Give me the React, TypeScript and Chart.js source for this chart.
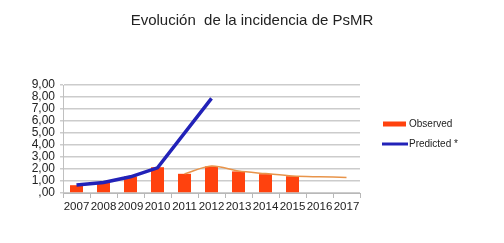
import React, { useEffect, useRef } from "react";
import { Chart, registerables } from "chart.js";

Chart.register(...registerables);

const categories = ["2007", "2008", "2009", "2010", "2011", "2012", "2013", "2014", "2015", "2016", "2017"];
const observed = [0.65, 0.85, 1.38, 2.15, 1.6, 2.22, 1.8, 1.57, 1.4, null, null];
const predicted = [0.67, 0.88, 1.35, 2.1, null, 7.88, null, null, null, null, null];
const trend = [null, null, null, null, 1.6, 2.25, 1.83, 1.62, 1.42, 1.35, 1.3];
const yTickLabels = [",00", "1,00", "2,00", "3,00", "4,00", "5,00", "6,00", "7,00", "8,00", "9,00"];
const titleText = "Evolución  de la incidencia de PsMR";

const FONT = "'Liberation Sans', Arial, sans-serif";

const legendPlugin = {
  id: "sideLegend",
  afterDraw(chart: any) {
    const ctx = chart.ctx;
    const items = [
      { label: chart.data.datasets[0].label, type: "bar", color: chart.data.datasets[0].backgroundColor, y: 124 },
      { label: chart.data.datasets[1].label, type: "line", color: chart.data.datasets[1].borderColor, y: 144 },
    ];
    ctx.save();
    ctx.font = `10px ${FONT}`;
    ctx.textBaseline = "middle";
    ctx.textAlign = "left";
    for (const it of items) {
      if (it.type === "bar") {
        ctx.fillStyle = it.color;
        ctx.fillRect(383, it.y - 2.5, 23, 5);
      } else {
        ctx.strokeStyle = it.color;
        ctx.lineWidth = 3;
        ctx.beginPath();
        ctx.moveTo(382, it.y);
        ctx.lineTo(408, it.y);
        ctx.stroke();
      }
      ctx.fillStyle = "#222";
      ctx.fillText(it.label, 409, it.y);
    }
    ctx.restore();
  },
};

export default function App() {
  const ref = useRef<HTMLCanvasElement>(null);
  useEffect(() => {
    if (!ref.current) return;
    const chart = new Chart(ref.current, {
      type: "bar",
      data: {
        labels: categories,
        datasets: [
          {
            type: "bar",
            label: "Observed",
            data: observed as any,
            backgroundColor: "#ff420e",
            barPercentage: 0.48,
            categoryPercentage: 1,
            order: 3,
          },
          {
            type: "line",
            label: "Predicted *",
            data: predicted as any,
            borderColor: "#2222b8",
            borderWidth: 3.5,
            pointRadius: 0,
            spanGaps: true,
            tension: 0,
            order: 1,
          },
          {
            type: "line",
            label: "trend",
            data: trend as any,
            borderColor: "#e8944a",
            borderWidth: 1.5,
            pointRadius: 0,
            tension: 0.3,
            order: 2,
          },
        ],
      },
      options: {
        responsive: false,
        animation: false,
        layout: { padding: { left: 0, right: 0, top: 0, bottom: 0 } },
        plugins: {
          legend: { display: false },
          tooltip: { enabled: false },
          title: {
            display: true,
            text: titleText,
            color: "#222",
            font: { family: FONT, size: 15, weight: "normal", lineHeight: 1.2 },
            padding: { top: 12, bottom: 55 },
          },
        },
        scales: {
          x: {
            offset: true,
            grid: { offset: true, drawOnChartArea: false, drawTicks: true, tickLength: 5, color: "#b8b8b8" },
            border: { display: true, color: "#b8b8b8", width: 1 },
            ticks: { color: "#222", font: { family: FONT, size: 11.5 }, padding: 2, maxRotation: 0, autoSkip: false },
            afterFit(scale: any) {
              scale.height = 50;
            },
          },
          y: {
            min: 0,
            max: 9,
            grid: { color: "#cccccc", lineWidth: 1.5, drawTicks: true, tickLength: 3 },
            border: { display: true, color: "#c0c0c0", width: 1 },
            ticks: {
              stepSize: 1,
              autoSkip: false,
              color: "#222",
              font: { family: FONT, size: 12 },
              padding: 5,
              callback: (_v: any, i: number) => yTickLabels[i],
            },
            afterFit(scale: any) {
              scale.width = 63;
            },
          },
          spacer: {
            type: "linear",
            position: "right",
            display: true,
            grid: { display: false, drawTicks: false },
            border: { display: false },
            ticks: { display: false },
            afterFit(scale: any) {
              scale.width = 144;
            },
          },
        },
      },
      plugins: [legendPlugin],
    });
    return () => chart.destroy();
  }, []);
  return (
    <div style={{ position: "fixed", left: 0, top: 0, width: 504, height: 243, background: "#fff" }}>
      <canvas ref={ref} width={504} height={243} style={{ width: 504, height: 243 }} />
    </div>
  );
}
